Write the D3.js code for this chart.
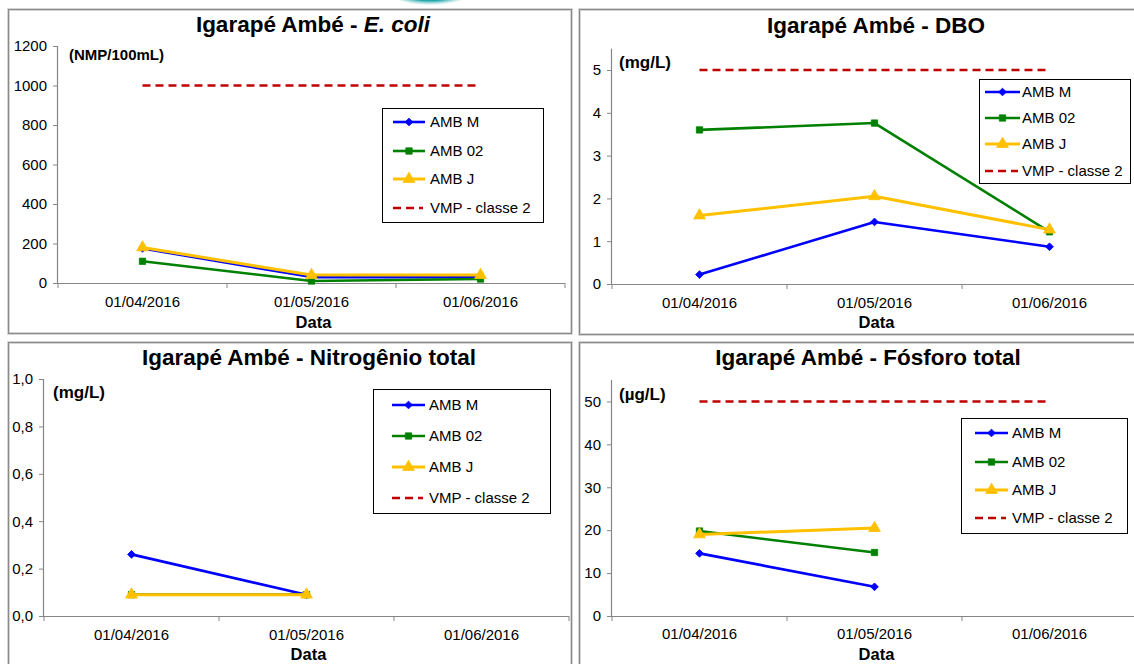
<!DOCTYPE html>
<html><head><meta charset="utf-8">
<script src="https://cdn.jsdelivr.net/npm/d3@7"></script>
<style>
html,body{margin:0;padding:0;background:#fff;}
svg{display:block;font-family:"Liberation Sans",Arial,sans-serif;}
</style></head>
<body>
<svg id="c" width="1134" height="664"></svg>
<script>
// ---- data ----
const dates = ["01/04/2016", "01/05/2016", "01/06/2016"];
const seriesNames = ["AMB M", "AMB 02", "AMB J", "VMP - classe 2"];

const ecoliM  = [175, 30, 30];
const ecoli02 = [110, 10, 20];
const ecoliJ  = [180, 40, 40];
const ecoliVMP = [1000, 1000, 1000];
const ecoliTicks = [0, 200, 400, 600, 800, 1000, 1200];

const dboM  = [0.22, 1.45, 0.87];
const dbo02 = [3.6, 3.76, 1.22];
const dboJ  = [1.6, 2.05, 1.27];
const dboVMP = [5, 5, 5];
const dboTicks = [0, 1, 2, 3, 4, 5];

const nitM  = [0.26, 0.09, null];
const nit02 = [0.09, 0.09, null];
const nitJ  = [0.09, 0.09, null];
const nitVMP = [null, null, null];
const nitTicks = [0, 0.2, 0.4, 0.6, 0.8, 1.0];

const fosM  = [14.6, 6.8, null];
const fos02 = [19.8, 14.8, null];
const fosJ  = [19, 20.5, null];
const fosVMP = [50, 50, 50];
const fosTicks = [0, 10, 20, 30, 40, 50];

// ---- styles ----
const colors = ["#0000ff", "#008000", "#ffc000", "#c00000"];
const symbols = [d3.symbolSquare, d3.symbolSquare, d3.symbolTriangle, null];
const symSizes = [30, 40, 60, 0];
const symRot = [45, 0, 0, 0];

const panels = [
  {title: ["Igarapé Ambé - ", "E. coli"], unit: "(NMP/100mL)", unitSize: 15,
   series: [ecoliM, ecoli02, ecoliJ, ecoliVMP], ticks: ecoliTicks, yMax: 1200, fmt: d3.format("d"),
   border: [8, 9, 563, 324], x0: 58, x1: 565, yTop: 46, yBot: 283,
   titleX: 313, titleY: 32, unitX: 69, unitY: 55, dateY: 307, dataY: 328,
   legend: [382, 108, 161, 114], rows: [122, 151, 179, 208], sOff: [11, 43], tOff: 48},
  {title: ["Igarapé Ambé - DBO"], unit: "(mg/L)", unitSize: 17,
   series: [dboM, dbo02, dboJ, dboVMP], ticks: dboTicks, yMax: 5.5, fmt: d3.format("d"),
   border: [579, 9, 560, 325], x0: 612, x1: 1137, yTop: 48.6, yBot: 284,
   titleX: 876, titleY: 33, unitX: 619, unitY: 62, dateY: 308, dataY: 328,
   legend: [979, 79, 151, 104], rows: [92, 118, 144, 171], sOff: [6, 41], tOff: 43},
  {title: ["Igarapé Ambé - Nitrogênio total"], unit: "(mg/L)", unitSize: 17,
   series: [nitM, nit02, nitJ, nitVMP], ticks: nitTicks, yMax: 1.0, fmt: d => d3.format(".1f")(d).replace(".", ","),
   border: [8, 342, 563, 330], x0: 44, x1: 569, yTop: 379, yBot: 616,
   titleX: 309, titleY: 365, unitX: 53, unitY: 392, dateY: 640, dataY: 660,
   legend: [373, 389, 177, 124], rows: [405, 436, 467, 498], sOff: [19, 52], tOff: 56},
  {title: ["Igarapé Ambé - Fósforo total"], unit: "(µg/L)", unitSize: 17,
   series: [fosM, fos02, fosJ, fosVMP], ticks: fosTicks, yMax: 55, fmt: d3.format("d"),
   border: [579, 342, 560, 330], x0: 612, x1: 1137, yTop: 380, yBot: 616,
   titleX: 868, titleY: 365, unitX: 619, unitY: 394, dateY: 639, dataY: 660,
   legend: [961, 418, 166, 115], rows: [433, 462, 490, 518], sOff: [14, 47], tOff: 51}
];

const svg = d3.select("#c");

// small cyan logo fragment at top
const defs = svg.append("defs");
const rg = defs.append("radialGradient").attr("id", "logo");
rg.append("stop").attr("offset", "0%").attr("stop-color", "#0f8a91");
rg.append("stop").attr("offset", "75%").attr("stop-color", "#25a8ad");
rg.append("stop").attr("offset", "100%").attr("stop-color", "#e6f6f6").attr("stop-opacity", 0.5);
svg.append("ellipse").attr("cx", 430).attr("cy", -12).attr("rx", 46).attr("ry", 17).attr("fill", "url(#logo)");

panels.forEach(p => {
  const g = svg.append("g");
  const [bx, by, bw, bh] = p.border;
  g.append("rect").attr("x", bx + 0.5).attr("y", by + 0.5).attr("width", bw).attr("height", bh)
    .attr("fill", "#fff").attr("stroke", "#c8c8c8").attr("stroke-width", 2.5);
  g.append("rect").attr("x", bx + 0.5).attr("y", by + 0.5).attr("width", bw).attr("height", bh)
    .attr("fill", "none").attr("stroke", "#8a8a8a").attr("stroke-width", 1);

  const x = d3.scaleBand().domain(dates).range([p.x0, p.x1]).paddingInner(0).paddingOuter(0);
  const y = d3.scaleLinear().domain([0, p.yMax]).range([p.yBot, p.yTop]);
  const cx = d => x(d) + x.bandwidth() / 2;

  // y axis
  const ya = g.append("g").attr("transform", `translate(${p.x0},0)`)
    .call(d3.axisLeft(y).tickValues(p.ticks).tickFormat(p.fmt).tickSize(5).tickPadding(6));
  ya.select(".domain").attr("stroke", "#868686").attr("d", `M-0.5,${p.yBot}V${p.yTop}`).attr("stroke-width", 1.2);
  ya.selectAll(".tick line").attr("stroke", "#868686");
  ya.selectAll(".tick text").attr("font-size", 15).attr("fill", "#000")
    .attr("font-family", "Liberation Sans, Arial, sans-serif");

  // x axis
  const xa = g.append("g").attr("transform", `translate(0,${p.yBot})`)
    .call(d3.axisBottom(x).tickSize(0).tickPadding(0));
  xa.select(".domain").attr("stroke", "#868686").attr("stroke-width", 1.2).attr("d", `M${p.x0},0.5H${p.x1}`);
  xa.selectAll(".tick text").attr("font-size", 15).attr("fill", "#000")
    .attr("font-family", "Liberation Sans, Arial, sans-serif")
    .attr("dy", null).attr("y", p.dateY - p.yBot);
  const bounds = dates.map(d => x(d)).concat([x(dates[dates.length - 1]) + x.bandwidth()]);
  xa.selectAll(".bt").data(bounds).enter().append("line").attr("class", "bt")
    .attr("x1", d => d).attr("x2", d => d).attr("y1", 0).attr("y2", 5).attr("stroke", "#868686");

  // x title
  g.append("text").attr("x", (p.x0 + p.x1) / 2 + 2).attr("y", p.dataY).attr("text-anchor", "middle")
    .attr("font-size", 16.5).attr("font-weight", "bold").text("Data");

  // chart title
  const t = g.append("text").attr("x", p.titleX).attr("y", p.titleY).attr("text-anchor", "middle")
    .attr("font-size", 22.5).attr("font-weight", "bold");
  t.append("tspan").text(p.title[0]);
  if (p.title[1]) t.append("tspan").attr("font-style", "italic").text(p.title[1]);

  // unit label
  g.append("text").attr("x", p.unitX).attr("y", p.unitY).attr("dy", "0.35em")
    .attr("font-size", p.unitSize).attr("font-weight", "bold").text(p.unit);

  // VMP dashed line
  const vmp = p.series[3];
  const lineGen = d3.line().defined(d => d.v != null).x(d => cx(d.d)).y(d => y(d.v));
  const pts = s => dates.map((d, i) => ({d: d, v: s[i]}));
  g.append("path").datum(pts(vmp)).attr("d", lineGen).attr("fill", "none")
    .attr("stroke", colors[3]).attr("stroke-width", 2.6).attr("stroke-dasharray", "8,5");

  // series
  [0, 1, 2].forEach(k => {
    const data = pts(p.series[k]);
    g.append("path").datum(data).attr("d", lineGen).attr("fill", "none")
      .attr("stroke", colors[k]).attr("stroke-width", k === 2 ? 3 : 2.6).attr("stroke-linejoin", "round");
    g.selectAll(".m" + k).data(data.filter(d => d.v != null)).enter().append("path")
      .attr("transform", d => `translate(${cx(d.d)},${y(d.v)}) rotate(${symRot[k]})`)
      .attr("d", d3.symbol().type(symbols[k]).size(symSizes[k]))
      .attr("fill", colors[k]).attr("stroke", colors[k]).attr("stroke-width", 0.8);
  });

  // legend
  const [lx, ly, lw, lh] = p.legend;
  const lg = g.append("g");
  lg.append("rect").attr("x", lx + 0.5).attr("y", ly + 0.5).attr("width", lw).attr("height", lh)
    .attr("fill", "#fff").attr("stroke", "#000").attr("stroke-width", 1);
  seriesNames.forEach((name, k) => {
    const ry = p.rows[k];
    const s0 = lx + p.sOff[0], s1 = lx + p.sOff[1];
    lg.append("line").attr("x1", s0).attr("x2", k === 3 ? s1 - 2 : s1).attr("y1", ry).attr("y2", ry)
      .attr("stroke", colors[k]).attr("stroke-width", k === 2 ? 3 : 2.6)
      .attr("stroke-dasharray", k === 3 ? "8,5" : null);
    if (symbols[k]) {
      lg.append("path").attr("transform", `translate(${(s0 + s1) / 2},${ry}) rotate(${symRot[k]})`)
        .attr("d", d3.symbol().type(symbols[k]).size(symSizes[k]))
        .attr("fill", colors[k]).attr("stroke", colors[k]).attr("stroke-width", 0.8);
    }
    lg.append("text").attr("x", lx + p.tOff).attr("y", ry).attr("dy", "0.36em")
      .attr("font-size", 15).text(name);
  });
});
</script>
</body></html>
